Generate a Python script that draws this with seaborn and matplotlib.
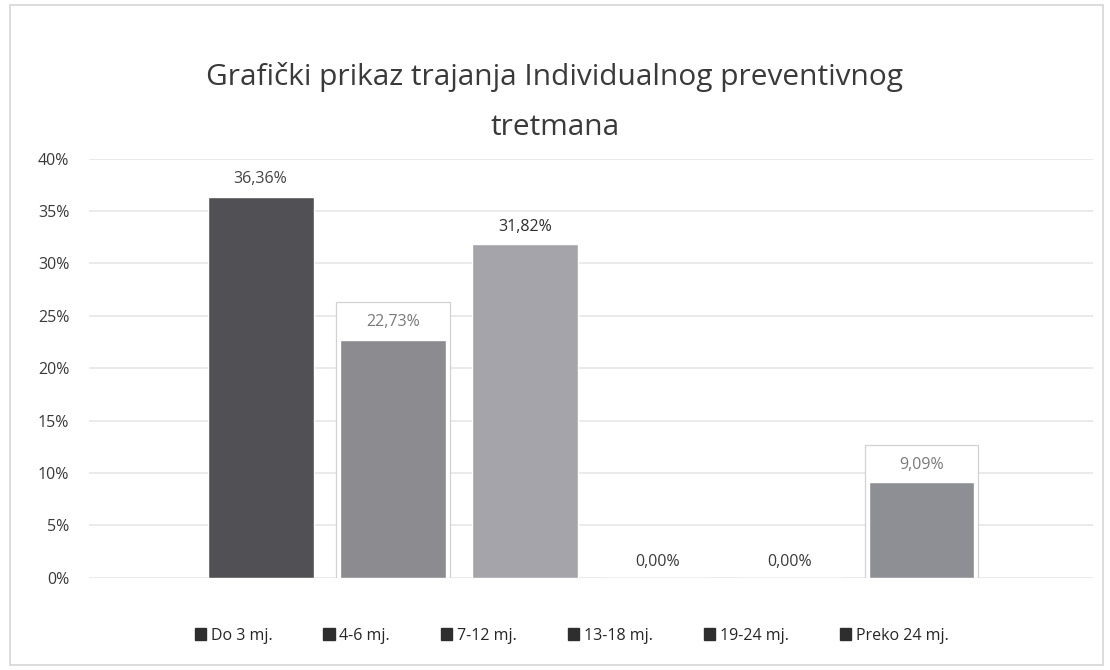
import pandas as pd
import seaborn as sns
import matplotlib.pyplot as plt
from matplotlib.patches import Rectangle

# Data
categories = ['Do 3 mj.', '4-6 mj.', '7-12 mj.', '13-18 mj.', '19-24 mj.', 'Preko 24 mj.']
values = [36.36, 22.73, 31.82, 0.00, 0.00, 9.09]
bar_colors = ['#515155', '#8b8b90', '#a4a4aa', '#606064', '#505054', '#8e8e95']
label_colors = ['#444444', '#7a7a7e', '#2e2e2e', '#3a3a3a', '#3a3a3a', '#7a7a7e']
boxed = [False, True, False, False, False, True]
y_ticks = [0, 5, 10, 15, 20, 25, 30, 35, 40]

df = pd.DataFrame({'trajanje': categories, 'postotak': values})

sns.set_style('white')
plt.rcParams['font.family'] = ['Open Sans', 'DejaVu Sans']

fig = plt.figure(figsize=(11.1, 6.7), dpi=100)
ax = fig.add_axes([0.08, 0.138, 0.905, 0.625])

sns.barplot(data=df, x='trajanje', y='postotak', hue='trajanje',
            palette=bar_colors, width=0.8, saturation=1, ax=ax, legend=False)

ax.set_ylim(0, 40)
ax.set_xlim(-1.3, 6.3)
ax.set_yticks(y_ticks)
ax.set_yticklabels([f'{t}%' for t in y_ticks], fontsize=11.5, color='#3a3a3a')
ax.set_xticks([])
ax.set_xlabel('')
ax.set_ylabel('')
ax.tick_params(axis='y', length=0, pad=14)
ax.yaxis.grid(True, color='#e6e6e6', linewidth=1.2)
ax.set_axisbelow(True)
for s in ax.spines.values():
    s.set_visible(False)

# value labels (some sit in a white box as wide as the bar)
bars = ax.patches[:len(values)]
for i, (v, c, b) in enumerate(zip(values, label_colors, boxed)):
    txt = f'{v:.2f}%'.replace('.', ',')
    y = v + 1.7 if v > 0 else 1.5
    if b:
        bar = bars[i]
        ax.add_patch(Rectangle((bar.get_x() - 0.03, 0), bar.get_width() + 0.06, v + 3.6,
                               facecolor='white', edgecolor='#d2d2d2', linewidth=0.9, zorder=1.5))
    ax.text(i, y, txt, ha='center', va='center', fontsize=11.5, color=c, zorder=4)

for bar in bars:
    bar.set_zorder(2)

# legend
handles = [plt.Rectangle((0, 0), 1, 1, color='#2e2e2e') for _ in categories]
fig.legend(handles, categories, loc='lower center', bbox_to_anchor=(0.515, 0.018), ncol=6,
           frameon=False, fontsize=11.5, handlelength=0.7, handleheight=0.7,
           handletextpad=0.3, columnspacing=3.2)

fig.text(0.5, 0.848, 'Grafički prikaz trajanja Individualnog preventivnog\ntretmana',
         ha='center', va='center', fontsize=21.5, color='#3a3a3a', linespacing=1.95)

# outer chart frame
fig.patches.append(Rectangle((0.009, 0.008), 0.985, 0.985, transform=fig.transFigure,
                             fill=False, edgecolor='#d6d6d6', linewidth=1.2))

fig.savefig('out.png', dpi=100)
